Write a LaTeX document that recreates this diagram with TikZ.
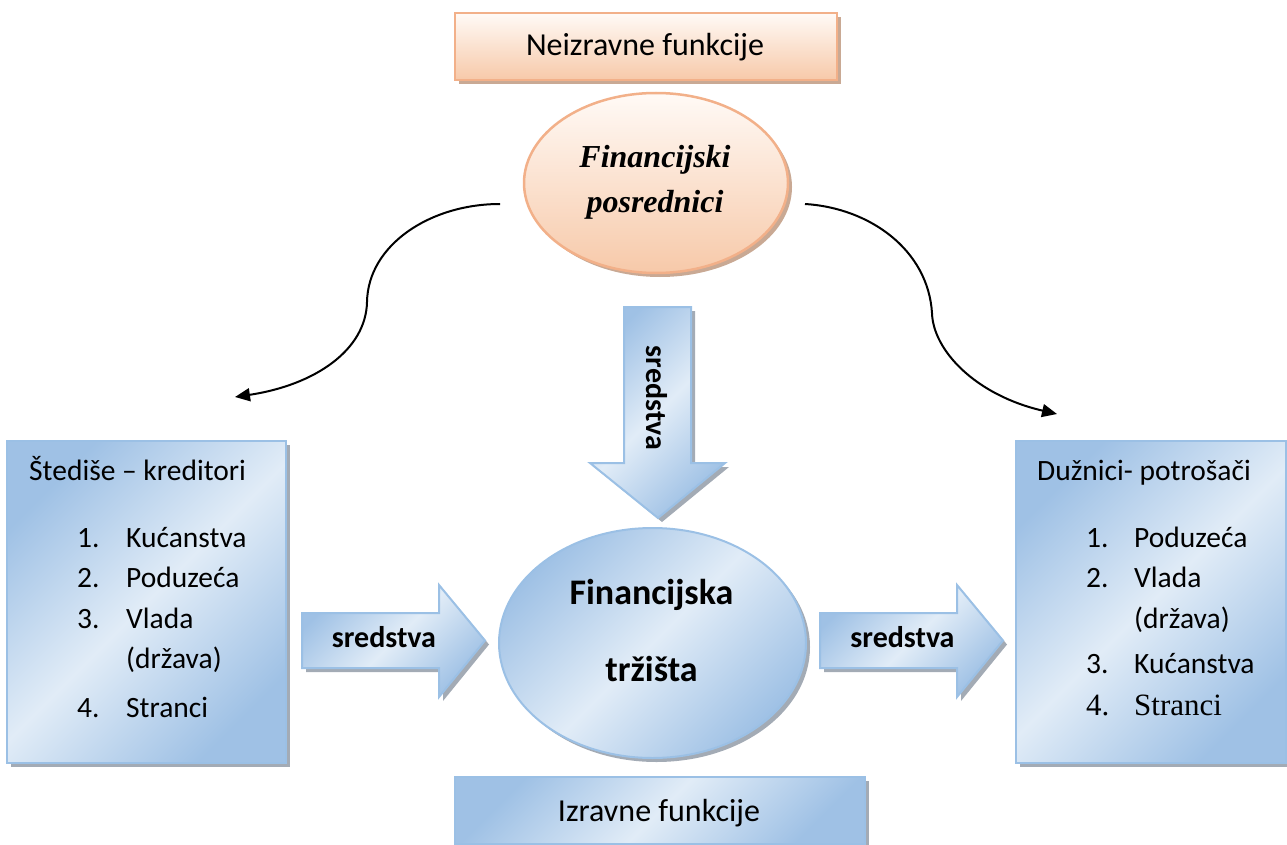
\documentclass[tikz,border=0pt]{standalone}
\usepackage{fontspec}
\setmainfont{Carlito}
\newfontfamily\timesf{Liberation Serif}
\usetikzlibrary{shapes.geometric,arrows.meta,shadows}
\definecolor{bdark}{HTML}{9FC1E5}
\definecolor{blight}{HTML}{E1ECF7}
\definecolor{bline}{HTML}{9BC0E5}
\definecolor{bshadow}{HTML}{A3ABB5}
\definecolor{otop}{HTML}{FFFAF6}
\definecolor{obot}{HTML}{F7C9A9}
\definecolor{oline}{HTML}{F2B089}
\definecolor{oshadow}{HTML}{C9A994}
\tikzset{
 bluefill/.style={draw=bline, line width=2pt, left color=bdark, right color=bdark, middle color=blight, shading angle=45,
   drop shadow={shadow xshift=4pt, shadow yshift=-4pt, fill=bshadow, opacity=1}},
 orangefill/.style={draw=oline, line width=2.5pt, top color=otop, bottom color=obot,
   drop shadow={shadow xshift=4pt, shadow yshift=-4pt, fill=oshadow, opacity=1}},
 boxshape/.style={rectangle, inner sep=0pt},
 txt/.style={inner sep=0pt, font=\fontsize{29.5}{35}\selectfont},
 bigtxt/.style={inner sep=0pt, font=\fontsize{32}{38}\selectfont},
 btxt/.style={inner sep=0pt, font=\fontsize{36}{42}\selectfont\bfseries},
 arrtxt/.style={inner sep=0pt, font=\fontsize{30}{36}\selectfont\bfseries},
 fptxt/.style={inner sep=0pt, font=\fontsize{32}{38}\selectfont\timesf\bfseries\itshape},
 tmtxt/.style={inner sep=0pt, font=\fontsize{31}{37}\selectfont\timesf},
 curve/.style={line width=2pt, -{Triangle[length=15pt,width=13pt]}}
}
\begin{document}
\begin{tikzpicture}[x=1pt,y=-1pt]
\useasboundingbox (0,0) rectangle (1287,845);
% top box
\node[orangefill, boxshape, minimum width=382pt, minimum height=67pt] (topbox) at (646,46.5) {};
\node[bigtxt, anchor=base] (toptxt) at (645,56) {Neizravne funkcije};
% orange ellipse
\node[orangefill, ellipse, inner sep=0pt, minimum width=264pt, minimum height=180pt] (fp) at (656,183) {};
\node[fptxt, anchor=base] (fp1) at (655,168) {Financijski};
\node[fptxt, anchor=base] (fp2) at (655,212) {posrednici};
% curves
\coordinate (c1s) at (500,204);
\coordinate (c1m) at (367,302);
\coordinate (c1e) at (235,397);
\draw[curve] (c1s) .. controls (430,204) and (368,245) .. (c1m) .. controls (366,350) and (315,385) .. (c1e);
\coordinate (c2s) at (805,204);
\coordinate (c2m) at (932,313);
\coordinate (c2e) at (1057,414);
\draw[curve] (c2s) .. controls (870,208) and (928,250) .. (c2m) .. controls (933,350) and (975,395) .. (c2e);
% vertical arrow
\path[bluefill] (624,307) -- (691,307) -- (691,463) -- (725,463) -- (658,518) -- (590,463) -- (624,463) -- cycle;
\node[arrtxt, rotate=-90] (vtxt) at (657,398) {sredstva};
% left box
\node[bluefill, boxshape, minimum width=279pt, minimum height=322pt] (lbox) at (146.5,602) {};
\node[txt, anchor=base west] (lt) at (29,480) {Štediše – kreditori};
\node[txt, anchor=base west] (ln1) at (77,547) {1.};
\node[txt, anchor=base west] (li1) at (126,547) {Kućanstva};
\node[txt, anchor=base west] (ln2) at (77,587) {2.};
\node[txt, anchor=base west] (li2) at (126,587) {Poduzeća};
\node[txt, anchor=base west] (ln3) at (77,628) {3.};
\node[txt, anchor=base west] (li3) at (126,628) {Vlada};
\node[txt, anchor=base west] (li3b) at (126,668) {(država)};
\node[txt, anchor=base west] (ln4) at (77,717) {4.};
\node[txt, anchor=base west] (li4) at (126,717) {Stranci};
% right box
\node[bluefill, boxshape, minimum width=270pt, minimum height=322pt] (rbox) at (1151,602) {};
\node[txt, anchor=base west] (rt) at (1037,480) {Dužnici- potrošači};
\node[txt, anchor=base west] (rn1) at (1086,547) {1.};
\node[txt, anchor=base west] (ri1) at (1134,547) {Poduzeća};
\node[txt, anchor=base west] (rn2) at (1086,587) {2.};
\node[txt, anchor=base west] (ri2) at (1134,587) {Vlada};
\node[txt, anchor=base west] (ri2b) at (1134,628) {(država)};
\node[txt, anchor=base west] (rn3) at (1086,673) {3.};
\node[txt, anchor=base west] (ri3) at (1134,673) {Kućanstva};
\node[tmtxt, anchor=base west] (rn4) at (1086,715) {4.};
\node[tmtxt, anchor=base west] (ri4) at (1134,715) {Stranci};
% horizontal arrows
\path[bluefill] (302,613) -- (439,613) -- (439,585) -- (485,640.5) -- (439,697) -- (439,668) -- (302,668) -- cycle;
\node[arrtxt, anchor=base] (ltxt) at (384,647) {sredstva};
\path[bluefill] (820,613) -- (957,613) -- (957,585) -- (1003,640.5) -- (957,697) -- (957,668) -- (820,668) -- cycle;
\node[arrtxt, anchor=base] (rtxt) at (902.5,647) {sredstva};
% blue ellipse
\node[bluefill, ellipse, inner sep=0pt, minimum width=307pt, minimum height=230pt] (ft) at (652.5,643) {};
\node[btxt, anchor=base] (ft1) at (651.5,604) {Financijska};
\node[btxt, anchor=base] (ft2) at (651.5,681) {tržišta};
% bottom box
\node[bluefill, boxshape, minimum width=410pt, minimum height=67pt] (botbox) at (660,810.5) {};
\node[bigtxt, anchor=base] (bottxt) at (659,821) {Izravne funkcije};
\end{tikzpicture}
\end{document}
